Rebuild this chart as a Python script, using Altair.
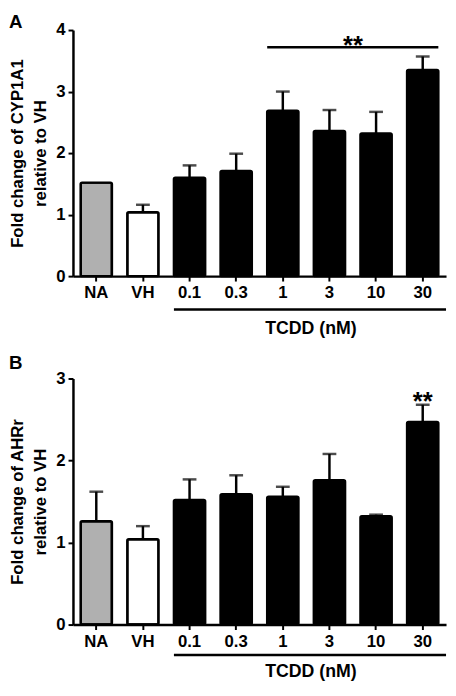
import altair as alt
import pandas as pd

# ---- data ----
categories = ["NA", "VH", "0.1", "0.3", "1", "3", "10", "30"]

cyp1a1_mean = [1.52, 1.04, 1.60, 1.71, 2.69, 2.36, 2.32, 3.35]
cyp1a1_sem = [0.0, 0.12, 0.20, 0.28, 0.31, 0.34, 0.35, 0.22]

ahrr_mean = [1.26, 1.04, 1.52, 1.59, 1.56, 1.76, 1.32, 2.47]
ahrr_sem = [0.36, 0.16, 0.25, 0.23, 0.12, 0.32, 0.02, 0.21]

treated = ["0.1", "0.3", "1", "3", "10", "30"]
cyp1a1_sig_span = ["1", "30"]   # bracket "**" over 1..30 nM
cyp1a1_sig_level = 3.72
ahrr_sig_dose = "30"

# ---- styles ----
FONT = "Liberation Sans"
bar_fills = ["#b0b0b0", "#ffffff", "#000000", "#000000", "#000000",
             "#000000", "#000000", "#000000"]
W, H = 379, 250


def panel(means, sems, ymax, ytitle, letter, letter_y, rule_off, text_off,
          sig_span=None, sig_level=None, sig_dose=None):
    df = pd.DataFrame({"dose": categories, "mean": means, "sem": sems})
    df["top"] = df["mean"] + df["sem"]

    xscale = alt.Scale(domain=categories, paddingInner=0.33, paddingOuter=0.165)
    x = alt.X("dose:N", sort=categories, scale=xscale,
              axis=alt.Axis(title=None, labelAngle=0, labelPadding=4))
    x_plain = alt.X("dose:N", sort=categories)
    yscale = alt.Scale(domain=[0, ymax], nice=False, zero=True)
    y = alt.Y("mean:Q", scale=yscale,
              axis=alt.Axis(values=list(range(ymax + 1)), format="d", title=ytitle,
                            titleLineHeight=24, titlePadding=6, labelPadding=3))

    bars = alt.Chart(df).mark_bar(stroke="black", strokeWidth=2.5, cornerRadius=1.5).encode(
        x=x, y=y,
        fill=alt.Fill("dose:N", scale=alt.Scale(domain=categories, range=bar_fills), legend=None),
    )
    err = alt.Chart(df).transform_filter("datum.sem > 0").mark_rule(
        color="black", strokeWidth=2.5).encode(x=x_plain, y="mean:Q", y2="top:Q")
    cap = alt.Chart(df).transform_filter("datum.sem > 0").mark_tick(
        orient="horizontal", size=14, thickness=2.5, color="black").encode(x=x_plain, y="top:Q")

    lab = pd.DataFrame({"label": ["TCDD (nM)"], "letter": [letter]})
    tcdd_rule = alt.Chart(lab).mark_rule(color="black", strokeWidth=2.5).encode(
        x=alt.XDatum(treated[0], type="nominal", bandPosition=0),
        x2=alt.value(W),
        y=alt.value(H + rule_off),
    )
    tcdd_text = alt.Chart(lab).mark_text(
        font=FONT, fontSize=18, fontWeight="bold", color="black",
        align="center", baseline="middle", dx=-3).encode(
        x=alt.XDatum("3", type="nominal", bandPosition=0),
        y=alt.value(H + text_off),
        text="label:N",
    )
    letter_text = alt.Chart(lab).mark_text(
        font=FONT, fontSize=19, fontWeight="bold", color="black",
        align="left", baseline="top").encode(
        x=alt.value(-65), y=alt.value(letter_y), text="letter:N")

    layers = [bars, err, cap, tcdd_rule, tcdd_text, letter_text]

    if sig_span is not None:
        sig_line = alt.Chart(lab).mark_rule(color="black", strokeWidth=2.5).encode(
            x=alt.XDatum(sig_span[0], type="nominal", bandPosition=0),
            x2=alt.X2Datum(sig_span[1], bandPosition=1),
            y=alt.YDatum(sig_level),
        )
        sig_text = alt.Chart(lab).mark_text(
            text="**", font=FONT, fontSize=26, fontWeight="bold", color="black",
            align="center", baseline="alphabetic", dy=7, dx=8).encode(
            x=alt.XDatum("3", type="nominal", bandPosition=1),
            y=alt.YDatum(sig_level),
        )
        layers += [sig_line, sig_text]
    if sig_dose is not None:
        sig_text = alt.Chart(df).transform_filter(
            alt.datum.dose == sig_dose).mark_text(
            text="**", font=FONT, fontSize=26, fontWeight="bold", color="black",
            align="center", baseline="alphabetic", dy=5).encode(
            x=x_plain, y="top:Q")
        layers += [sig_text]

    return alt.layer(*layers).properties(width=W, height=H)


pA = panel(cyp1a1_mean, cyp1a1_sem, 4, ["Fold change of CYP1A1", "relative to VH"], "A",
           letter_y=-17, rule_off=34, text_off=54,
           sig_span=cyp1a1_sig_span, sig_level=cyp1a1_sig_level)
pB = panel(ahrr_mean, ahrr_sem, 3, ["Fold change of AHRr", "relative to VH"], "B",
           letter_y=-25, rule_off=31, text_off=48,
           sig_dose=ahrr_sig_dose)

chart = alt.vconcat(pA, pB, spacing=16).properties(padding=0).configure_view(
    stroke=None
).configure_axis(
    labelFont=FONT, titleFont=FONT, labelFontWeight="bold", titleFontWeight="bold",
    labelFontSize=17, titleFontSize=17, labelColor="black", titleColor="black",
    domainColor="black", domainWidth=2.5, tickColor="black", tickWidth=2, tickSize=5,
    grid=False,
).configure_text(font=FONT)

chart.save("out.html", embed_options={"renderer": "svg", "actions": False})
